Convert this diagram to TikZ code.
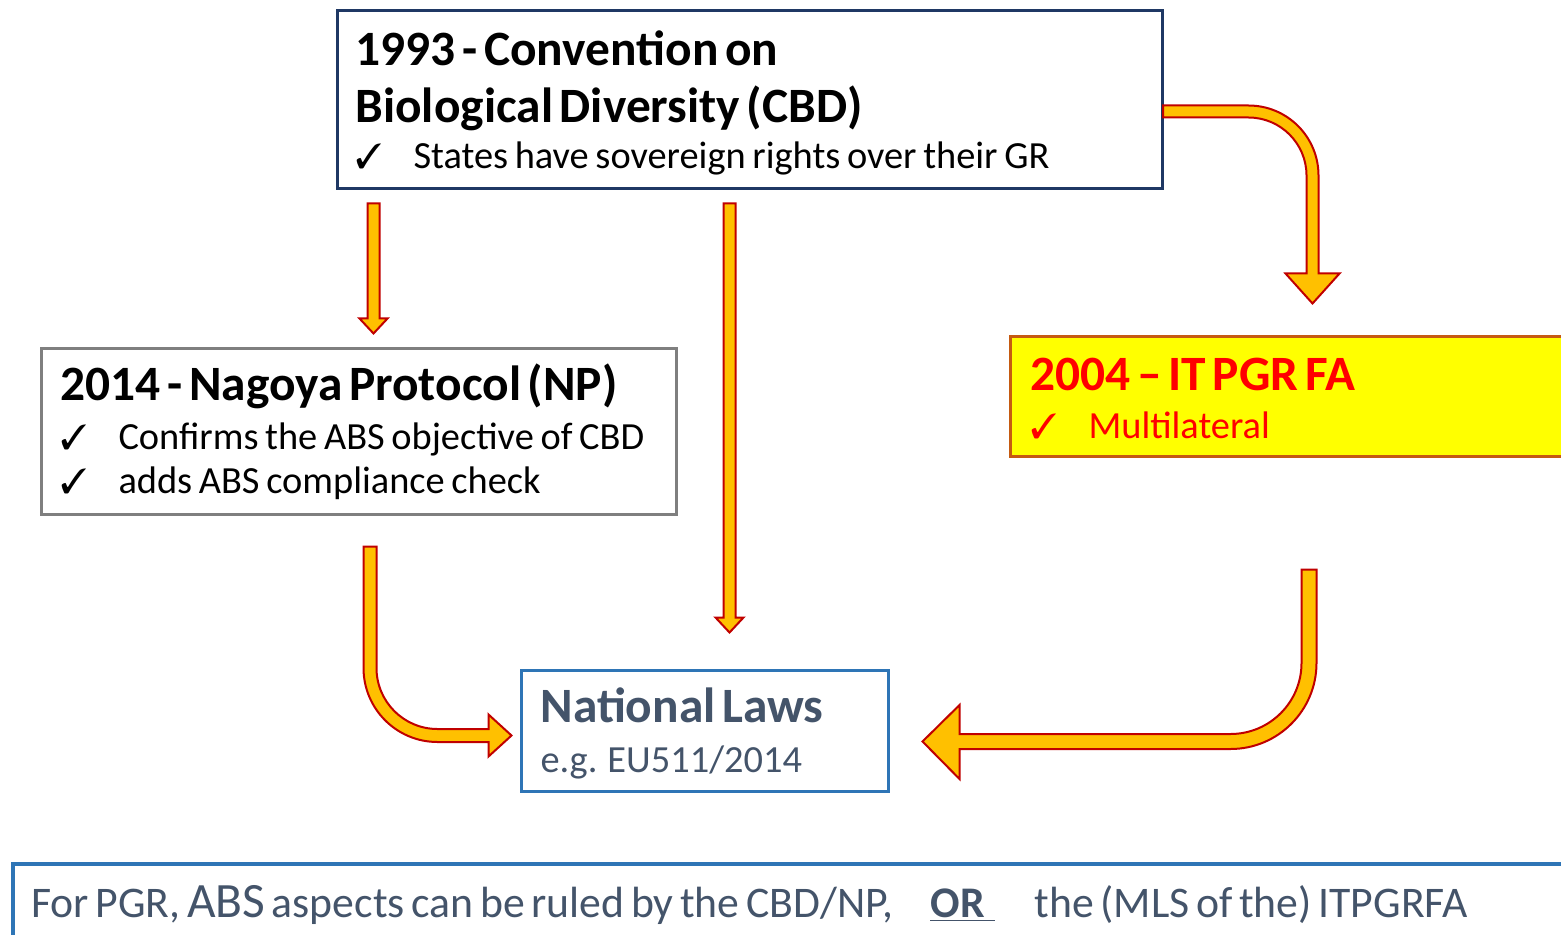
\documentclass[tikz,border=0pt]{standalone}
\usepackage{fontspec}
\setmainfont{Carlito}
\usepackage{pifont}
\usepackage{tikz}
\usetikzlibrary{calc}

\definecolor{cbdnavy}{HTML}{1F3864}
\definecolor{npgray}{HTML}{7F7F7F}
\definecolor{itfill}{HTML}{FFFF00}
\definecolor{itborder}{HTML}{C55A11}
\definecolor{itred}{HTML}{FF0000}
\definecolor{lawblue}{HTML}{2E75B6}
\definecolor{slate}{HTML}{44546A}
\definecolor{arrowgold}{HTML}{FFC000}
\definecolor{arrowred}{HTML}{C00000}

\newcommand{\boxtitle}{\fontsize{24.7}{28.5}\selectfont\bfseries}
\newcommand{\boxitem}{\fontsize{19.2}{22}\selectfont\mdseries}
\newcommand{\chk}{\makebox[29pt][l]{\fontsize{17.5}{17.5}\selectfont\ding{51}}}
\newcommand{\downblock}[2]{\draw[blockarrow] ([xshift=-3pt]#1) -- ([xshift=-3pt,yshift=7.5pt]#2) -- ([xshift=-7pt,yshift=7.5pt]#2) -- (#2) -- ([xshift=7pt,yshift=7.5pt]#2) -- ([xshift=3pt,yshift=7.5pt]#2) -- ([xshift=3pt]#1) -- cycle;}

\begin{document}
\begin{tikzpicture}[x=0.5pt, y=-0.5pt,
    box/.style = {draw, line width=1.5pt, anchor=north west, inner ysep=0pt, align=left},
    blockarrow/.style = {draw=arrowred, fill=arrowgold, line width=1pt, line join=miter}]
        \useasboundingbox (0,0) rectangle (1561,935);
        \clip (0,0) rectangle (1561,935);

        % treaties
        \node[box, draw=cbdnavy, inner xsep=9.25pt, text width=394pt, text height=27.25pt, text depth=61.75pt] (cbd) at (335.5,9.5)
            {\boxtitle 1993 - Convention on\\ Biological Diversity (CBD)\par\vspace{1pt}\boxitem\chk States have sovereign rights over their GR\par};
        \node[box, draw=npgray, inner xsep=9.75pt, text width=298pt, text height=26.25pt, text depth=56.75pt] (np) at (39.5,346.5)
            {\boxtitle 2014 - Nagoya Protocol (NP)\par\vspace{2.5pt}\boxitem\chk Confirms the ABS objective of CBD\\ \chk adds ABS compliance check\par};
        \node[box, draw=itborder, fill=itfill, text=itred, inner xsep=10.25pt, text width=329.5pt, text height=27.25pt, text depth=32.75pt] (it) at (1008.5,334.5)
            {\boxtitle 2004 – IT PGR FA\par\vspace{2pt}\boxitem\chk Multilateral\par};
        \node[box, draw=lawblue, text=slate, inner xsep=9.75pt, text width=164pt, text height=26.25pt, text depth=34.25pt] (nl) at (519.5,668.5)
            {\boxtitle National Laws\par\vspace{3pt}\boxitem e.g. EU511/2014\par};
        \node[box, draw=lawblue, line width=1.75pt, text=slate, inner xsep=9.125pt, text width=831.75pt, text height=26.6pt, text depth=40pt] (note) at (11.25,862.25)
            {\fontsize{21.85}{25}\selectfont For PGR, {\fontsize{24.7}{25}\selectfont ABS} aspects can be ruled by the CBD/NP,\hspace{18.5pt}\underline{\textbf{OR}\hspace{5pt}}\hspace{20pt}the (MLS of the) ITPGRFA};

        % arrow ends
        \coordinate (a1s) at ($(cbd.south west)+(38,13)$);
        \coordinate (a1e) at ($(a1s |- np.north)+(0,-13)$);
        \coordinate (a2s) at ($(cbd.south west)+(394,13)$);
        \coordinate (a2e) at ($(a2s |- nl.north)+(0,-36)$);
        \coordinate (a3s) at ($(cbd.north east)+(-0.5,102)$);
        \coordinate (a3e) at ($(it.north west)+(304,-31)$);
        \coordinate (a4s) at ($(np.south west)+(330.5,31)$);
        \coordinate (a4e) at ($(nl.west)+(-8,5)$);
        \coordinate (a5s) at ($(it.south west)+(300.5,112)$);
        \coordinate (a5e) at ($(nl.east)+(33,11)$);
        \coordinate (c3) at (a3e |- a3s);
        \coordinate (c4) at (a4s |- a4e);
        \coordinate (c5) at (a5s |- a5e);

        % straight arrows
        \downblock{a1s}{a1e}
        \downblock{a2s}{a2e}

        % bent arrows
        \begin{scope}[shift={(c3)}]
            \draw[blockarrow] ([yshift=3pt]a3s) -- (-64,-6) .. controls (-25.3,-6) and (6,25.3) .. (6,64) -- (6,162) -- (27,162) -- (a3e) -- (-27,162) -- (-6,162) -- (-6,64) .. controls (-6,32) and (-32,6) .. (-64,6) -- ([yshift=-3pt]a3s) -- cycle;
        \end{scope}
        \begin{scope}[shift={(c4)}]
            \draw[blockarrow] ([xshift=-3.25pt]a4s) -- (-6.5,-67.5) .. controls (-6.5,-26.6) and (26.6,6.5) .. (67.5,6.5) -- (118.5,6.5) -- (118.5,21) -- (a4e) -- (118.5,-21) -- (118.5,-6.5) -- (67.5,-6.5) .. controls (33.8,-6.5) and (6.5,-33.8) .. (6.5,-67.5) -- ([xshift=3.25pt]a4s) -- cycle;
        \end{scope}
        \begin{scope}[shift={(c5)}]
            \draw[blockarrow] ([xshift=3.75pt]a5s) -- (7.5,-78.5) .. controls (7.5,-31) and (-31,7.5) .. (-78.5,7.5) -- (-349.5,7.5) -- (-349.5,37.5) -- (a5e) -- (-349.5,-36.5) -- (-349.5,-7.5) -- (-78.5,-7.5) .. controls (-39.3,-7.5) and (-7.5,-39.3) .. (-7.5,-78.5) -- ([xshift=-3.75pt]a5s) -- cycle;
        \end{scope}
\end{tikzpicture}
\end{document}
